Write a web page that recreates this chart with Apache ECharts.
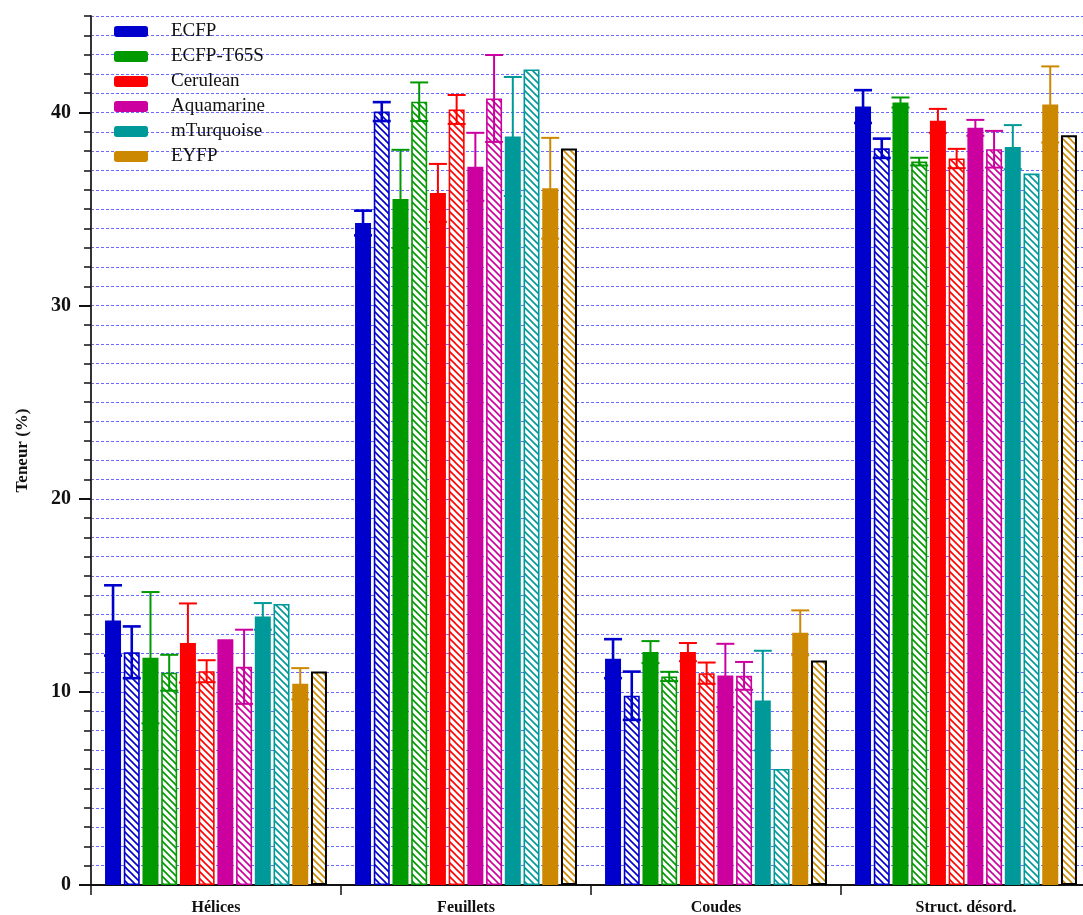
<!DOCTYPE html>
<html>
<head>
<meta charset="utf-8">
<script src="https://cdn.jsdelivr.net/npm/echarts@6/dist/echarts.min.js"></script>
<style>
  html, body { margin: 0; padding: 0; background: #fff; }
  #chart { width: 1083px; height: 915px; }
</style>
</head>
<body>
<div id="chart"></div>
<script>
// categories on the x axis
const categories = ['Hélices', 'Feuillets', 'Coudes', 'Struct. désord.'];

// proteins (legend) and their colours
const proteins = ['ECFP', 'ECFP-T65S', 'Cerulean', 'Aquamarine', 'mTurquoise', 'EYFP'];
const colors = ['#0000cc', '#009900', '#ff0000', '#cc009f', '#009999', '#cc8800'];

// solid bars (mean) and error
const ecfp = [13.70, 34.28, 11.72, 40.31];
const ecfpErr = [1.82, 0.64, 1.01, 0.85];
const t65s = [11.77, 35.53, 12.06, 40.52];
const t65sErr = [3.40, 2.54, 0.57, 0.26];
const cerulean = [12.53, 35.84, 12.06, 39.57];
const ceruleanErr = [2.05, 1.50, 0.47, 0.62];
const aquamarine = [12.72, 37.19, 10.85, 39.21];
const aquamarineErr = [0, 1.76, 1.64, 0.41];
const mturq = [13.91, 38.76, 9.55, 38.21];
const mturqErr = [0.69, 3.08, 2.58, 1.14];
const eyfp = [10.42, 36.08, 13.06, 40.42];
const eyfpErr = [0.81, 2.61, 1.16, 1.97];

// hatched bars and error
const ecfpH = [12.05, 40.05, 9.80, 38.15];
const ecfpHErr = [1.34, 0.49, 1.25, 0.50];
const t65sH = [10.99, 40.56, 10.80, 37.46];
const t65sHErr = [0.93, 1.00, 0.24, 0.20];
const ceruleanH = [11.07, 40.16, 10.97, 37.62];
const ceruleanHErr = [0.57, 0.75, 0.55, 0.50];
const aquamarineH = [11.30, 40.73, 10.83, 38.10];
const aquamarineHErr = [1.92, 2.25, 0.72, 0.95];
const mturqH = [14.55, 42.23, 6.01, 36.84];
const mturqHErr = [0, 0, 0, 0];
const eyfpH = [11.06, 38.14, 11.63, 38.83];
const eyfpHErr = [0, 0, 0, 0];

// y tick labels
const yLabels = [0, 10, 20, 30, 40];

const solid = [ecfp, t65s, cerulean, aquamarine, mturq, eyfp];
const solidErr = [ecfpErr, t65sErr, ceruleanErr, aquamarineErr, mturqErr, eyfpErr];
const hatched = [ecfpH, t65sH, ceruleanH, aquamarineH, mturqH, eyfpH];
const hatchedErr = [ecfpHErr, t65sHErr, ceruleanHErr, aquamarineHErr, mturqHErr, eyfpHErr];

const BAR_W = 16;
const GAP = 0.17;
const PITCH = BAR_W * (1 + GAP);
const FONT = '"Liberation Serif", "Times New Roman", serif';

function hatch(color) {
    const s = 7;
    const c = document.createElement('canvas');
    c.width = s; c.height = s;
    const ctx = c.getContext('2d');
    ctx.fillStyle = '#fff';
    ctx.fillRect(0, 0, s, s);
    ctx.strokeStyle = color;
    ctx.lineWidth = 1.6;
    ctx.beginPath();
    ctx.moveTo(-1, -1); ctx.lineTo(s + 1, s + 1);
    ctx.moveTo(-1, s - 1); ctx.lineTo(1, s + 1);
    ctx.moveTo(s - 1, -1); ctx.lineTo(s + 1, 1);
    ctx.stroke();
    return c;
}

function errSeries(k, vals, errs, color, width) {
    const offset = (k - 5.5) * PITCH;
    return {
        type: 'custom',
        z: 5,
        silent: true,
        data: vals.map((v, i) => [i, v, errs[i]]),
        renderItem: function (params, api) {
            const e = api.value(2);
            if (!e) return null;
            const v = api.value(1);
            const top = api.coord([api.value(0), v + e]);
            const bot = api.coord([api.value(0), v - e]);
            const x = top[0] + offset;
            const hw = 9;
            const style = { stroke: color, lineWidth: width };
            return {
                type: 'group',
                children: [
                    { type: 'line', shape: { x1: x, y1: top[1], x2: x, y2: bot[1] }, style: style },
                    { type: 'line', shape: { x1: x - hw, y1: top[1], x2: x + hw, y2: top[1] }, style: style },
                    { type: 'line', shape: { x1: x - hw, y1: bot[1], x2: x + hw, y2: bot[1] }, style: style }
                ]
            };
        }
    };
}

const series = [];
const errs = [];
proteins.forEach((name, p) => {
    const col = colors[p];
    const lw = p === 0 ? 2.6 : 2;
    series.push({
        name: name,
        type: 'bar',
        barWidth: BAR_W,
        barGap: (GAP * 100) + '%',
        itemStyle: { color: col },
        data: solid[p]
    });
    series.push({
        name: name + ' ',
        type: 'bar',
        barWidth: BAR_W,
        barGap: (GAP * 100) + '%',
        itemStyle: {
            color: { image: hatch(col), repeat: 'repeat' },
            borderColor: p === 5 ? '#000' : col,
            borderWidth: p === 5 ? 2 : 1.6
        },
        data: hatched[p]
    });
    errs.push(errSeries(2 * p, solid[p], solidErr[p], col, lw));
    errs.push(errSeries(2 * p + 1, hatched[p], hatchedErr[p], col, lw));
});

const chart = echarts.init(document.getElementById('chart'));
chart.setOption({
    animation: false,
    backgroundColor: '#fff',
    grid: { left: 91, width: 1000, top: 16, bottom: 30, outerBoundsMode: 'none' },
    legend: {
        data: proteins,
        orient: 'vertical',
        left: 114,
        top: 22,
        padding: 0,
        itemWidth: 34,
        itemHeight: 11,
        itemGap: 6,
        icon: 'roundRect',
        selectedMode: false,
        textStyle: { fontFamily: FONT, fontSize: 19, color: '#111', padding: [0, 0, 0, 18] }
    },
    xAxis: {
        type: 'category',
        data: categories,
        axisLine: { lineStyle: { color: '#111', width: 2 } },
        axisTick: { show: true, length: 10, lineStyle: { color: '#111', width: 1.5 } },
        axisLabel: { fontFamily: FONT, fontWeight: 'bold', fontSize: 16, color: '#111', margin: 15 },
        splitLine: { show: false }
    },
    yAxis: [{
        type: 'value',
        min: 0,
        max: 45,
        interval: 1,
        name: 'Teneur (%)',
        nameLocation: 'middle',
        nameGap: 60,
        nameTextStyle: { fontFamily: FONT, fontWeight: 'bold', fontSize: 17, color: '#111' },
        axisLine: { show: true, lineStyle: { color: '#333', width: 2 } },
        axisTick: { show: true, length: 7, lineStyle: { color: '#111', width: 1.5 } },
        axisLabel: { show: false },
        splitLine: { show: true, lineStyle: { color: '#6a6aff', width: 1, type: [3, 2] } }
    }, {
        type: 'value',
        min: 0,
        max: 45,
        interval: 1,
        position: 'left',
        axisLine: { show: false },
        axisTick: { show: true, length: 12, customValues: yLabels, lineStyle: { color: '#111', width: 2 } },
        axisLabel: {
            customValues: yLabels,
            fontFamily: FONT, fontWeight: 'bold', fontSize: 20, color: '#111', margin: 20
        },
        splitLine: { show: false }
    }],
    series: series.concat(errs)
});
</script>
</body>
</html>
